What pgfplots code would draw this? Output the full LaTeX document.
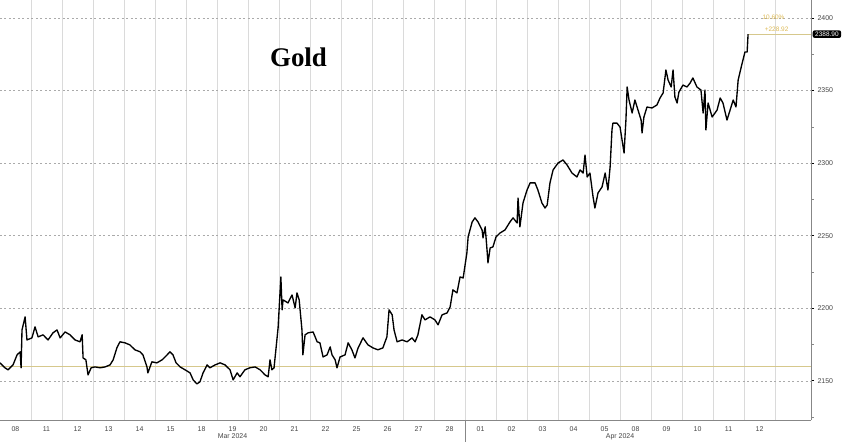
\documentclass[border=0pt]{standalone}
\usepackage{fontspec}
\setmainfont{Liberation Sans}
\newfontfamily\titlefont{Liberation Serif}
\usepackage{pgfplots}
\pgfplotsset{compat=1.18}
\definecolor{gridv}{RGB}{218,218,218}
\definecolor{gridh}{RGB}{170,170,170}
\definecolor{refline}{RGB}{214,200,140}
\definecolor{goldtxt}{RGB}{220,185,85}
\definecolor{axgray}{RGB}{135,135,135}
\definecolor{lbl}{RGB}{70,70,70}
\begin{document}
\begin{tikzpicture}
\begin{axis}[
  at={(0,22bp)}, anchor=south west,
  scale only axis, width=811bp, height=420bp,
  xmin=0, xmax=26.16, ymin=2123, ymax=2412.4,
  axis x line*=bottom, axis y line*=right,
  axis line style={axgray, line width=0.8pt},
  clip mode=individual,
  xtick={0.5,1.5,...,24.5},
  xticklabels={08,11,12,13,14,15,18,19,20,21,22,25,26,27,28,01,02,03,04,05,08,09,10,11,12},
  major x tick style={draw=none},
  minor xtick={1,2,...,25},
  minor x tick style={draw=none},
  xminorgrids, minor x grid style={gridv, line width=0.9pt},
  ytick={2150,2200,...,2400},
  minor ytick={2125,2175,...,2375},
  ymajorgrids, major y grid style={gridh, dash pattern=on 2bp off 2.5bp, line width=0.7pt},
  major y tick style={black, line width=1pt},
  minor y tick style={axgray, line width=0.6pt},
  major tick length=3bp, minor tick length=2.5bp,
  tick align=outside,
  yticklabel style={font=\fontsize{7}{8}\selectfont, text=lbl},
  xticklabel style={font=\fontsize{7}{8}\selectfont, text=lbl},
  /pgf/number format/assume math mode=true,
  /pgf/number format/set thousands separator={},
]
\addplot[refline, line width=0.8pt] coordinates {(0,2159.98) (26.16,2159.98)};
\addplot[refline, line width=0.8pt] coordinates {(24.13,2388.9) (26.16,2388.9)};
\addplot[black, line width=1.35pt, line join=round] coordinates {
(0.00,2162.4) (0.16,2159.0) (0.26,2157.6) (0.42,2161.0) (0.55,2167.9) (0.65,2170.0) (0.68,2159.0) (0.71,2185.1) (0.81,2194.1) (0.87,2178.2)
(1.03,2179.6) (1.13,2187.2) (1.23,2180.3) (1.39,2181.7) (1.55,2178.2) (1.71,2183.1) (1.84,2185.1) (1.94,2179.6) (2.10,2183.7) (2.26,2181.7)
(2.42,2178.2) (2.58,2176.9) (2.65,2181.7) (2.68,2165.8) (2.77,2164.5) (2.84,2154.1) (2.94,2159.0) (3.06,2159.6) (3.23,2159.0) (3.39,2159.6)
(3.55,2161.0) (3.65,2164.5) (3.77,2172.7) (3.87,2176.9) (4.03,2176.2) (4.19,2174.8) (4.35,2171.4) (4.52,2170.0) (4.61,2167.9) (4.74,2159.6)
(4.77,2155.5) (4.90,2163.1) (5.06,2162.4) (5.23,2164.5) (5.39,2167.9) (5.48,2170.0) (5.58,2167.9) (5.68,2162.4) (5.81,2159.6) (5.97,2157.6)
(6.13,2155.5) (6.23,2150.7) (6.35,2147.9) (6.45,2149.3) (6.55,2155.5) (6.68,2161.0) (6.77,2159.0) (6.94,2161.0) (7.10,2162.4) (7.26,2161.0)
(7.42,2157.6) (7.52,2150.7) (7.65,2155.5) (7.74,2152.8) (7.90,2157.6) (8.06,2159.0) (8.23,2159.6) (8.39,2157.6) (8.55,2154.1) (8.65,2152.8)
(8.71,2164.5) (8.77,2157.6) (8.84,2159.0) (8.97,2186.5) (9.06,2221.6) (9.10,2198.9) (9.13,2205.8) (9.29,2203.7) (9.42,2209.2) (9.52,2200.3)
(9.58,2210.6) (9.65,2205.8) (9.74,2185.1) (9.77,2167.9) (9.84,2181.7) (9.94,2183.1) (10.10,2183.7) (10.23,2176.9) (10.32,2176.2) (10.42,2166.5)
(10.55,2167.9) (10.65,2173.4) (10.71,2167.9) (10.81,2164.5) (10.87,2159.0) (10.97,2166.5) (11.13,2167.9) (11.23,2176.2) (11.35,2171.4) (11.45,2165.8)
(11.55,2172.7) (11.71,2179.6) (11.87,2174.8) (12.03,2172.7) (12.19,2171.4) (12.35,2172.7) (12.48,2180.3) (12.55,2198.9) (12.65,2195.5) (12.71,2185.1)
(12.81,2176.9) (12.97,2178.2) (13.13,2176.9) (13.29,2179.6) (13.39,2176.9) (13.48,2181.7) (13.61,2195.5) (13.71,2192.0) (13.87,2194.1) (14.03,2192.0)
(14.13,2188.6) (14.26,2195.5) (14.42,2196.8) (14.52,2201.0) (14.61,2212.7) (14.74,2210.6) (14.84,2221.6) (14.94,2220.9) (15.06,2238.2) (15.10,2249.2)
(15.23,2259.5) (15.32,2262.3) (15.42,2259.5) (15.55,2254.0) (15.58,2248.5) (15.65,2256.1) (15.71,2240.2) (15.74,2231.3) (15.81,2241.6) (15.90,2242.3)
(16.00,2249.2) (16.13,2251.9) (16.29,2254.0) (16.45,2259.5) (16.55,2262.3) (16.68,2258.8) (16.71,2276.0) (16.77,2256.1) (16.87,2272.6) (17.00,2281.5)
(17.10,2286.4) (17.26,2286.4) (17.35,2281.5) (17.48,2272.6) (17.58,2269.1) (17.65,2271.2) (17.74,2286.4) (17.84,2295.3) (18.00,2300.1) (18.16,2302.2)
(18.29,2298.8) (18.45,2293.2) (18.61,2290.5) (18.71,2295.3) (18.81,2293.2) (18.87,2305.6) (18.94,2290.5) (19.03,2293.2) (19.13,2276.7) (19.19,2269.1)
(19.29,2279.5) (19.42,2283.6) (19.52,2293.2) (19.61,2281.5) (19.68,2297.4) (19.74,2322.9) (19.77,2327.6) (19.90,2327.6) (20.00,2324.9) (20.10,2311.2)
(20.13,2307.0) (20.19,2329.7) (20.23,2352.5) (20.29,2343.5) (20.39,2334.6) (20.48,2343.5) (20.58,2336.6) (20.68,2329.7) (20.71,2320.8) (20.77,2331.8)
(20.87,2338.7) (21.03,2338.0) (21.19,2340.1) (21.29,2344.9) (21.39,2348.4) (21.48,2364.2) (21.55,2357.3) (21.65,2352.5) (21.71,2364.2) (21.77,2345.6)
(21.84,2341.5) (21.90,2349.0) (22.03,2353.8) (22.16,2352.5) (22.26,2355.2) (22.35,2358.7) (22.48,2352.5) (22.61,2350.4) (22.68,2334.6) (22.74,2350.4)
(22.77,2322.9) (22.84,2341.5) (22.97,2331.8) (23.13,2336.6) (23.23,2344.9) (23.32,2341.5) (23.45,2329.7) (23.55,2336.6) (23.65,2343.5) (23.74,2338.7)
(23.81,2357.3) (23.94,2369.0) (24.03,2376.6) (24.10,2376.6) (24.13,2388.9)
};
\node[goldtxt, font=\fontsize{6.5}{7}\selectfont] at (axis cs:24.95,2400.6) {10.60\%};
\node[goldtxt, font=\fontsize{6.5}{7}\selectfont] at (axis cs:25.05,2392.3) {+228.92};
\node[fill=black, text=white, rounded corners=2bp, inner xsep=2.5bp, inner ysep=1.5bp, anchor=west, font=\fontsize{6.5}{7}\selectfont] at ([xshift=1.5bp]axis cs:26.16,2388.9) {2388.90};
\draw[axgray, line width=0.8pt] (axis cs:15,2123) -- ++(0,-22bp);
\node[text=lbl, font=\fontsize{7}{8}\selectfont] at ([yshift=-16.5bp]axis cs:7.5,2123) {Mar 2024};
\node[text=lbl, font=\fontsize{7}{8}\selectfont] at ([yshift=-16.5bp]axis cs:20,2123) {Apr 2024};
\end{axis}
\node[text=black, font=\titlefont\bfseries\fontsize{27}{30}\selectfont] at (298.5bp,385bp) {Gold};
\pgfresetboundingbox
\useasboundingbox (0,0) rectangle (848bp,442bp);
\end{tikzpicture}
\end{document}
